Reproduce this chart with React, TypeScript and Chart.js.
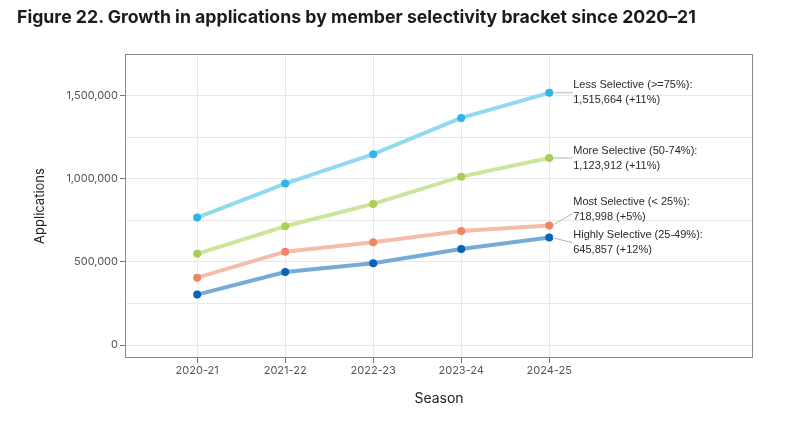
import React, { useEffect, useRef } from "react";
import { Chart, registerables } from "chart.js";

Chart.register(...registerables);

const seasons = ["2020-21", "2021-22", "2022-23", "2023-24", "2024-25"];
const lessSelective = [766000, 970000, 1147000, 1365000, 1515664];
const moreSelective = [548000, 714000, 848000, 1012000, 1123912];
const mostSelective = [405000, 561000, 618000, 685000, 718998];
const highlySelective = [303000, 439000, 492000, 577000, 645857];

const seriesNames = [
  "Less Selective (>=75%):",
  "More Selective (50-74%):",
  "Most Selective (< 25%):",
  "Highly Selective (25-49%):",
];
const seriesLabels2 = ["1,515,664 (+11%)", "1,123,912 (+11%)", "718,998 (+5%)", "645,857 (+12%)"];

const yMajorTicks = [0, 500000, 1000000, 1500000];
const yMinorTicks = [250000, 750000, 1250000];

const lineColors = ["#91d9f0", "#cde49c", "#f6bcaa", "#76aad7"];
const pointColors = ["#2db6e7", "#a8cf55", "#ef8467", "#0b63b6"];

const fmt = (v: number) => v.toLocaleString("en-US");

const annotPlugin = {
  id: "annot",
  beforeDatasetsDraw(chart: any) {
    const { ctx, chartArea } = chart;
    ctx.save();
    ctx.strokeStyle = "#8a8a8a";
    ctx.lineWidth = 1;
    ctx.strokeRect(chartArea.left + 0.5, chartArea.top + 0.5, chartArea.right - chartArea.left - 1, chartArea.bottom - chartArea.top - 1);
    ctx.restore();
  },
  afterDatasetsDraw(chart: any) {
    const { ctx } = chart;
    const items = chart.data.datasets.map((ds: any, i: number) => {
      const meta = chart.getDatasetMeta(i);
      const pt = meta.data[meta.data.length - 1];
      return { i, px: pt.x, py: pt.y, ly: pt.y };
    });
    const sorted = [...items].sort((a, b) => a.py - b.py);
    const gap = 33;
    for (let iter = 0; iter < 20; iter++) {
      for (let k = 0; k < sorted.length - 1; k++) {
        const a = sorted[k], b = sorted[k + 1];
        const d = b.ly - a.ly;
        if (d < gap) {
          const need = gap - d;
          a.ly -= need * 0.75;
          b.ly += need * 0.25;
        }
      }
    }
    ctx.save();
    const tx = items[0].px + 24;
    items.forEach((it: any) => {
      ctx.strokeStyle = "#b5b5b5";
      ctx.lineWidth = 1;
      ctx.beginPath();
      ctx.moveTo(it.px + 3, it.py);
      ctx.lineTo(tx - 1, Math.abs(it.ly - it.py) < 1 ? it.py : it.ly + (it.py > it.ly ? 4 : 0));
      ctx.stroke();
      ctx.fillStyle = "#2a2a2a";
      ctx.font = "11px 'Liberation Sans', Arial, sans-serif";
      ctx.textAlign = "left";
      ctx.textBaseline = "middle";
      ctx.fillText(seriesNames[it.i], tx, it.ly - 7.5);
      ctx.fillText(seriesLabels2[it.i], tx, it.ly + 7.5);
    });
    ctx.restore();
  },
};

export default function App() {
  const ref = useRef<HTMLCanvasElement>(null);
  useEffect(() => {
    if (!ref.current) return;
    const series = [lessSelective, moreSelective, mostSelective, highlySelective];
    const chart = new Chart(ref.current, {
      type: "line",
      data: {
        datasets: series.map((s, i) => ({
          label: seriesNames[i],
          data: s.map((v, j) => ({ x: j, y: v })),
          borderColor: lineColors[i],
          backgroundColor: pointColors[i],
          pointBackgroundColor: pointColors[i],
          pointBorderColor: pointColors[i],
          pointRadius: 4,
          pointBorderWidth: 0,
          borderWidth: 4,
          tension: 0,
        })),
      },
      options: {
        responsive: false,
        animation: false,
        layout: { padding: { top: 54, right: 42, left: 0, bottom: 0 } },
        plugins: { legend: { display: false }, tooltip: { enabled: false } },
        scales: {
          x: {
            type: "linear",
            min: -0.82,
            max: 6.315,
            afterBuildTicks: (scale: any) => {
              scale.ticks = seasons.map((_, i) => ({ value: i }));
            },
            afterFit: (scale: any) => {
              scale.height = 64;
            },
            ticks: {
              callback: (v: any) => seasons[v] ?? "",
              color: "#555555",
              font: { family: "Inter, 'Noto Sans', sans-serif", size: 11 },
              padding: 1,
              maxRotation: 0,
              autoSkip: false,
            },
            grid: { color: "#e8e8e8", lineWidth: 1, tickLength: 5, tickColor: "#777777" },
            border: { display: false },
            title: {
              display: true,
              text: "Season",
              color: "#222222",
              font: { family: "Inter, 'Noto Sans', sans-serif", size: 14 },
              padding: { top: 4, bottom: 15 },
            },
          },
          y: {
            type: "linear",
            min: -78000,
            max: 1749000,
            afterBuildTicks: (scale: any) => {
              scale.ticks = [...yMajorTicks, ...yMinorTicks].sort((a, b) => a - b).map((v) => ({ value: v }));
            },
            afterFit: (scale: any) => {
              scale.width = 125;
            },
            ticks: {
              callback: (v: any) => (yMajorTicks.includes(v) ? fmt(v) : ""),
              color: "#555555",
              font: { family: "Inter, 'Noto Sans', sans-serif", size: 11 },
              padding: 2,
            },
            grid: {
              color: "#e8e8e8",
              lineWidth: 1,
              tickLength: 5,
              tickColor: (c: any) => (c.tick && yMajorTicks.includes(c.tick.value) ? "#777777" : "rgba(0,0,0,0)"),
            },
            border: { display: false },
            title: {
              display: true,
              text: "Applications",
              color: "#222222",
              font: { family: "Inter, 'Noto Sans', sans-serif", size: 13 },
              padding: { top: 32, bottom: 0 },
            },
          },
        },
      } as any,
      plugins: [annotPlugin],
    });
    return () => chart.destroy();
  }, []);
  return (
    <div style={{ position: "fixed", left: 0, top: 0, width: 795, height: 422, background: "#ffffff" }}>
      <canvas ref={ref} width={795} height={422} style={{ position: "absolute", left: 0, top: 0 }} />
      <div
        style={{
          position: "absolute",
          left: 17,
          top: 6,
          fontFamily: "Inter, 'Noto Sans', sans-serif",
          fontWeight: 700,
          fontSize: 17.7,
          color: "#1b1b1b",
          whiteSpace: "nowrap",
        }}
      >
        Figure 22. Growth in applications by member selectivity bracket since 2020–21
      </div>
    </div>
  );
}
